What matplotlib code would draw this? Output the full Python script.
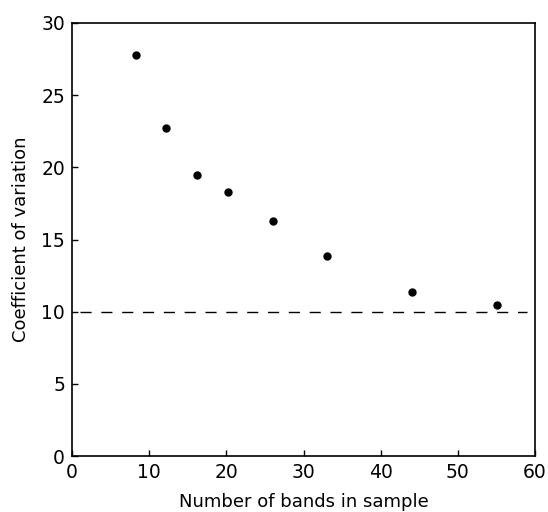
import matplotlib
matplotlib.use("Agg")
import matplotlib.pyplot as plt

bands = [8.25, 12.2, 16.2, 20.2, 26.1, 33.0, 44.0, 55.1]
cv = [27.8, 22.75, 19.5, 18.3, 16.3, 13.85, 11.35, 10.45]
reference_level = 10
x_ticks = [0, 10, 20, 30, 40, 50, 60]
y_ticks = [0, 5, 10, 15, 20, 25, 30]

plt.rcParams['font.family'] = ['DejaVu Sans']
fig = plt.figure(figsize=(5.48, 5.12), dpi=100)
ax = fig.add_axes([72/548, 56/512, (535-72)/548, (456-23)/512])

ax.plot(bands, cv, 'o', color='black', markersize=5, zorder=3)
ax.plot([1, 59], [reference_level, reference_level], color='black', lw=1.0,
        dashes=(8, 7))

ax.set_xlim(0, 60)
ax.set_ylim(0, 30)
ax.set_xticks(x_ticks)
ax.set_yticks(y_ticks)
ax.tick_params(direction='in', length=4, width=1, labelsize=13.5, pad=5,
               top=False, right=False)
for s in ax.spines.values():
    s.set_linewidth(1.2)
ax.set_xlabel('Number of bands in sample', fontsize=13, labelpad=8)
ax.set_ylabel('Coefficient of variation', fontsize=13, labelpad=8)

fig.savefig('out.png', dpi=100)
